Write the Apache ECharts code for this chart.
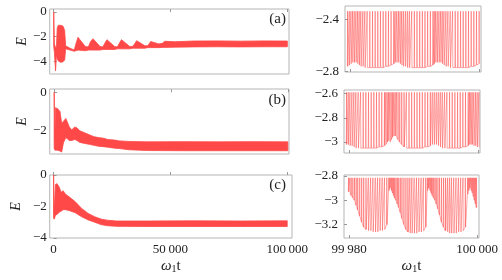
<!DOCTYPE html>
<html>
<head>
<meta charset="utf-8">
<script src="https://cdn.jsdelivr.net/npm/echarts@6.0.0/dist/echarts.min.js"></script>
<style>
html, body { margin: 0; padding: 0; background: #fff; }
#main { width: 502px; height: 280px; }
</style>
</head>
<body>
<div id="main"></div>
<script>
// left column: envelope of the fast oscillation (upper / lower edge of the red band)
var aX  = [0, 300, 800, 1200, 1500, 2000, 3000, 4000, 4700, 5100, 7000, 8800, 9500, 10400, 13500, 14800, 15800, 16800, 19800, 21000, 22000, 22800, 26000, 27200, 28200, 29000, 32500, 33800, 34800, 35500, 39000, 40200, 41000, 41500, 45000, 46500, 47500, 52000, 60000, 70000, 80000, 90000, 100000];
var aHi = [0, -2.6, -2.9, -2.8, -1.3, -1.08, -1.08, -1.15, -1.5, -2.75, -2.95, -3.1, -2.6, -2.06, -2.8, -2.85, -2.4, -2.17, -2.8, -2.85, -2.5, -2.25, -2.8, -2.85, -2.5, -2.25, -2.8, -2.8, -2.55, -2.33, -2.75, -2.75, -2.55, -2.4, -2.6, -2.55, -2.38, -2.42, -2.36, -2.35, -2.37, -2.35, -2.36];
var aLo = [-2.8, -3.3, -4.8, -3.4, -3.8, -4.0, -4.1, -4.05, -3.9, -3.0, -3.1, -3.2, -3.15, -3.1, -3.15, -3.1, -3.1, -3.1, -3.1, -3.05, -3.05, -3.05, -3.05, -3.0, -3.0, -3.0, -3.0, -2.95, -2.95, -2.95, -2.95, -2.9, -2.9, -2.9, -2.9, -2.88, -2.88, -2.86, -2.84, -2.83, -2.84, -2.83, -2.83];

var bX  = [0, 300, 500, 1500, 2500, 3200, 4000, 5000, 6500, 7500, 8800, 9800, 11000, 13000, 15000, 17000, 19000, 21000, 23000, 26000, 28000, 32000, 40000, 55000, 70000, 85000, 100000];
var bHi = [0, -2.5, -0.8, -0.85, -1.0, -1.6, -1.5, -1.36, -1.8, -1.95, -1.8, -1.85, -2.0, -2.1, -2.2, -2.3, -2.35, -2.38, -2.45, -2.48, -2.52, -2.55, -2.57, -2.56, -2.57, -2.56, -2.57];
var bLo = [-2.9, -3.0, -3.0, -3.0, -3.05, -3.1, -2.6, -2.35, -2.5, -2.5, -2.45, -2.5, -2.6, -2.65, -2.7, -2.75, -2.8, -2.82, -2.85, -2.9, -2.92, -2.98, -3.02, -3.03, -3.03, -3.03, -3.03];

var cX  = [0, 300, 800, 1500, 2500, 3200, 4100, 5000, 6600, 9300, 12000, 14800, 17600, 20300, 23000, 27000, 40000, 60000, 80000, 100000];
var cHi = [0, -2.4, -0.6, -0.55, -0.8, -1.1, -1.0, -1.2, -1.38, -1.7, -2.12, -2.44, -2.65, -2.8, -2.87, -2.92, -2.92, -2.91, -2.92, -2.91];
var cLo = [-2.75, -2.8, -2.55, -2.5, -2.35, -2.3, -2.2, -2.2, -2.25, -2.4, -2.65, -2.85, -3.0, -3.15, -3.22, -3.26, -3.27, -3.27, -3.27, -3.27];

// right column: spike times, base level under each spike, common spike top
var raT = [99979.56, 99979.82, 99980.08, 99980.33, 99980.59, 99980.85, 99981.11, 99981.36, 99981.62, 99981.93, 99982.24, 99982.60, 99983.01, 99983.43, 99983.84, 99984.25, 99984.66, 99985.08, 99985.49, 99985.90, 99986.31,
           99986.73, 99986.93, 99987.19, 99987.45, 99987.71, 99987.96, 99988.22, 99988.53, 99988.84, 99989.15, 99989.51, 99989.92, 99990.33, 99990.75, 99991.16, 99991.57, 99991.98, 99992.40, 99992.81,
           99993.01, 99993.22, 99993.48, 99993.74, 99994.00, 99994.25, 99994.51, 99994.82, 99995.13, 99995.49, 99995.85, 99996.26, 99996.67, 99997.09, 99997.50, 99997.91, 99998.32, 99998.74, 99999.15, 99999.56, 99999.97];
var raBase = [-2.76, -2.75, -2.74, -2.73, -2.73, -2.73, -2.74, -2.75, -2.76, -2.76, -2.77, -2.77, -2.77, -2.77, -2.77, -2.77, -2.77, -2.77, -2.76, -2.76, -2.75,
              -2.74, -2.73, -2.73, -2.73, -2.74, -2.75, -2.76, -2.76, -2.77, -2.77, -2.77, -2.77, -2.77, -2.77, -2.77, -2.77, -2.76, -2.76, -2.75,
              -2.74, -2.73, -2.73, -2.73, -2.73, -2.74, -2.75, -2.76, -2.76, -2.77, -2.77, -2.77, -2.77, -2.77, -2.77, -2.77, -2.77, -2.76, -2.76, -2.75, -2.74];
var raTop = -2.34;

var rbT = [99979.56, 99979.82, 99980.08, 99980.39, 99980.69, 99981.00, 99981.36, 99981.73, 99982.14, 99982.55, 99982.96, 99983.38, 99983.79, 99984.20, 99984.61, 99985.02, 99985.44,
           99985.64, 99985.85, 99986.06, 99986.27, 99986.47, 99986.67, 99986.88, 99987.09, 99987.29, 99987.55, 99987.81,
           99988.12, 99988.48, 99988.84, 99989.25, 99989.66, 99990.08, 99990.49, 99990.90, 99991.31, 99991.73, 99992.14, 99992.55,
           99992.86, 99993.17, 99993.48, 99993.79, 99994.10, 99994.41, 99994.77, 99995.13, 99995.54, 99995.95, 99996.36, 99996.78, 99997.19, 99997.60, 99998.01, 99998.43,
           99998.63, 99998.84, 99999.05, 99999.30, 99999.56, 99999.82, 100000.08];
var rbBase = [-3.02, -3.02, -3.03, -3.03, -3.04, -3.05, -3.05, -3.05, -3.05, -3.05, -3.05, -3.05, -3.05, -3.05, -3.04, -3.04, -3.03,
              -3.02, -3.0, -2.99, -3.0, -2.98, -2.96, -2.95, -2.95, -2.96, -2.98, -3.0,
              -3.02, -3.04, -3.05, -3.05, -3.05, -3.05, -3.05, -3.05, -3.05, -3.04, -3.04, -3.03,
              -3.02, -3.02, -3.02, -3.03, -3.04, -3.05, -3.05, -3.05, -3.05, -3.05, -3.05, -3.05, -3.05, -3.04, -3.04, -3.03,
              -3.02, -3.02, -3.02, -3.03, -3.03, -3.04, -3.04];
var rbTop = -2.59;

var rcT = [99979.87, 99980.08, 99980.28, 99980.54, 99980.80, 99981.06, 99981.31, 99981.62, 99981.93, 99982.24, 99982.60, 99982.96, 99983.32, 99983.68, 99984.05, 99984.41, 99984.77, 99985.13, 99985.49, 99985.85,
           99986.16, 99986.31, 99986.47, 99986.62, 99986.78, 99986.93, 99987.09, 99987.29, 99987.50, 99987.71, 99987.96, 99988.22, 99988.53, 99988.84, 99989.15, 99989.46, 99989.77, 99990.13, 99990.49, 99990.85, 99991.21, 99991.57, 99991.93,
           99992.19, 99992.34, 99992.50, 99992.65, 99992.81, 99992.96, 99993.17, 99993.38, 99993.58, 99993.84, 99994.10, 99994.41, 99994.72, 99995.02, 99995.33, 99995.64, 99995.95, 99996.31, 99996.67, 99997.04, 99997.40, 99997.76, 99998.12,
           99998.48, 99998.63, 99998.79, 99998.94, 99999.10, 99999.25, 99999.41, 99999.56, 99999.72, 99999.87];
var rcBase = [-2.93, -2.94, -2.96, -2.98, -3.0, -3.04, -3.08, -3.13, -3.18, -3.22, -3.24, -3.25, -3.25, -3.26, -3.26, -3.26, -3.25, -3.25, -3.24, -3.2,
              -2.92, -2.9, -2.9, -2.92, -2.94, -2.96, -2.98, -3.0, -3.03, -3.06, -3.1, -3.15, -3.2, -3.24, -3.26, -3.27, -3.27, -3.27, -3.27, -3.26, -3.26, -3.25, -3.22,
              -2.92, -2.9, -2.9, -2.92, -2.94, -2.96, -2.98, -3.0, -3.03, -3.07, -3.12, -3.18, -3.22, -3.25, -3.26, -3.27, -3.27, -3.27, -3.27, -3.26, -3.26, -3.25, -3.22,
              -2.95, -2.92, -2.9, -2.9, -2.92, -2.94, -2.97, -3.0, -3.03, -3.06];
var rcTop = -2.815;

var leftTicks = [0, 50000, 100000];
var rightTicks = [99980, 100000];

var red = '#ff4848';
var spikeRed = 'rgba(255,60,60,0.6)';
var serif = 'Liberation Serif';

function num(v) {
	var s = String(Math.abs(v));
	if (Math.abs(v) >= 10000) s = s.replace(/\B(?=(\d{3})+(?!\d))/g, '\u2009');
	return (v < 0 ? '\u2212' : '') + s;
}

// red band between the lower and upper envelope, drawn as one polygon through the axis scales
function band(i, xs, hi, lo) {
	var rows = [];
	for (var k = 0; k < xs.length; k++) rows.push([xs[k], hi[k], lo[k]]);
	return {
		type: 'custom', xAxisIndex: i, yAxisIndex: i, data: rows, silent: true, clip: true,
		encode: { x: 0, y: [1, 2] },
		renderItem: function(params, api) {
			if (params.dataIndex !== 0) return null;
			var pts = [];
			for (var k = 0; k < rows.length; k++) pts.push(api.coord([rows[k][0], rows[k][1]]));
			for (var k = rows.length - 1; k >= 0; k--) pts.push(api.coord([rows[k][0], rows[k][2]]));
			return {
				type: 'polygon',
				shape: { points: pts },
				style: { fill: red, stroke: red, lineWidth: 0.8 }
			};
		}
	};
}

function spikes(i, ts, base, top) {
	var d = [];
	for (var k = 0; k < ts.length; k++) {
		d.push([ts[k], base[k]]);
		d.push([ts[k] + 0.04, top]);
		d.push([ts[k] + 0.08, base[k]]);
	}
	return {
		type: 'line', xAxisIndex: i, yAxisIndex: i, data: d, symbol: 'none', silent: true,
		lineStyle: { width: 0.75, color: spikeRed }
	};
}

var grids = [
	{ left: 33, top: 9, width: 256, height: 65 },
	{ left: 34, top: 89, width: 255, height: 65 },
	{ left: 40, top: 175, width: 252, height: 63 },
	{ left: 345, top: 6, width: 136, height: 66 },
	{ left: 344, top: 90, width: 136, height: 63 },
	{ left: 344, top: 175, width: 135, height: 63 }
].map(function(g) {
	return Object.assign({ show: true, borderColor: '#b5b5b5', borderWidth: 1 }, g);
});

var xName = '{w|ω}{s|1}{t|t}';
var xNameStyle = {
	color: '#222',
	rich: {
		w: { fontFamily: serif, fontStyle: 'italic', fontSize: 15, color: '#222' },
		s: { fontFamily: serif, fontSize: 10, color: '#222', verticalAlign: 'bottom' },
		t: { fontFamily: serif, fontSize: 15, color: '#222' }
	}
};

function xAxis(i, min, max, ticks, labels) {
	return {
		gridIndex: i, type: 'value', min: min, max: max,
		axisLine: { show: false }, splitLine: { show: false },
		axisTick: { show: true, inside: true, length: 3, customValues: ticks, lineStyle: { color: '#999' } },
		axisLabel: { show: labels, customValues: ticks, formatter: num, fontFamily: serif, fontSize: 13, color: '#222', margin: 5 },
		name: labels ? xName : '', nameLocation: 'middle', nameGap: 21, nameTextStyle: xNameStyle
	};
}

function yAxis(i, min, max, ticks, showName, margin) {
	return {
		gridIndex: i, type: 'value', min: min, max: max,
		axisLine: { show: false }, splitLine: { show: false },
		axisTick: { show: true, inside: true, length: 3, customValues: ticks, lineStyle: { color: '#999' } },
		axisLabel: { customValues: ticks, formatter: num, fontFamily: serif, fontSize: 13, color: '#222', margin: margin },
		name: showName ? 'E' : '', nameLocation: 'middle', nameRotate: 90, nameGap: showName ? (grids[i].left - 14) : 0,
		nameTextStyle: { fontFamily: serif, fontStyle: 'italic', fontSize: 14, color: '#222' }
	};
}

var chart = echarts.init(document.getElementById('main'));
chart.setOption({
	animation: false,
	backgroundColor: '#fff',
	grid: grids,
	xAxis: [
		xAxis(0, -1700, 100700, leftTicks, false),
		xAxis(1, -1900, 100500, leftTicks, false),
		xAxis(2, -1650, 102050, leftTicks, true),
		xAxis(3, 99979.2, 100000.3, rightTicks, false),
		xAxis(4, 99979.2, 100000.3, rightTicks, false),
		xAxis(5, 99979.2, 100000.3, rightTicks, true)
	],
	yAxis: [
		yAxis(0, -5.05, 0.25, [0, -2, -4], true, 3),
		yAxis(1, -3.2, 0.17, [0, -2], true, 3),
		yAxis(2, -4, 0, [0, -2, -4], true, 3),
		yAxis(3, -2.803, -2.30, [-2.4, -2.8], false, 6),
		yAxis(4, -3.09, -2.571, [-2.6, -2.8, -3], false, 6),
		yAxis(5, -3.31, -2.792, [-2.8, -3, -3.2], false, 6)
	],
	graphic: [
		{ type: 'text', right: 502 - 286, top: 12, style: { text: '(a)', font: '15px "Liberation Serif"', fill: '#222' } },
		{ type: 'text', right: 502 - 286, top: 93, style: { text: '(b)', font: '15px "Liberation Serif"', fill: '#222' } },
		{ type: 'text', right: 502 - 286, top: 178, style: { text: '(c)', font: '15px "Liberation Serif"', fill: '#222' } }
	],
	series: [
		band(0, aX, aHi, aLo),
		band(1, bX, bHi, bLo),
		band(2, cX, cHi, cLo),
		spikes(3, raT, raBase, raTop),
		spikes(4, rbT, rbBase, rbTop),
		spikes(5, rcT, rcBase, rcTop)
	]
});
</script>
</body>
</html>
